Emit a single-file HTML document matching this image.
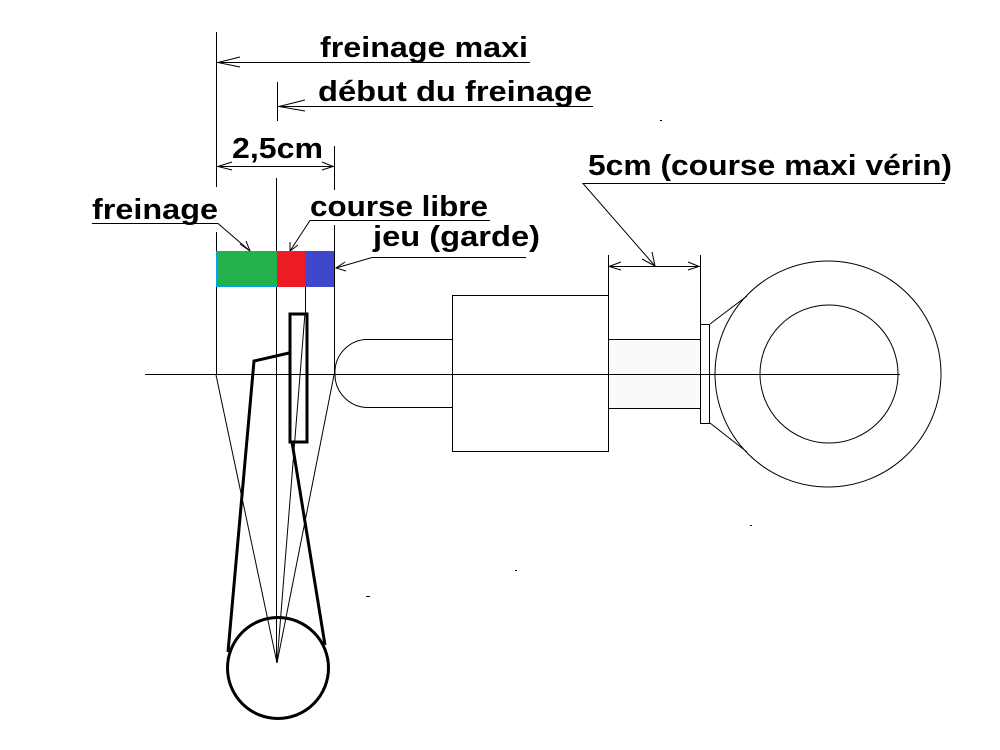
<!DOCTYPE html>
<html><head><meta charset="utf-8"><style>html,body{margin:0;padding:0;background:#fff}svg{display:block}</style></head><body>
<svg width="1000" height="750" viewBox="0 0 1000 750" xmlns="http://www.w3.org/2000/svg">
<g stroke="#000" stroke-width="1" fill="none">
<line x1="145" y1="374.5" x2="900" y2="374.5"/>
<line x1="216.5" y1="32" x2="216.5" y2="187"/>
<line x1="216.5" y1="232" x2="216.5" y2="375"/>
<line x1="277.5" y1="82" x2="277.5" y2="121"/>
<line x1="276.5" y1="178" x2="276.5" y2="662"/>
<line x1="334.5" y1="146" x2="334.5" y2="190"/>
<line x1="334.5" y1="225" x2="334.5" y2="375"/>
<line x1="305.5" y1="287" x2="305.5" y2="313"/>
<line x1="217" y1="62.5" x2="530" y2="62.5"/>
<polyline points="240,57 218,62.5 240,67"/>
<line x1="278" y1="106.5" x2="593" y2="106.5"/>
<polyline points="305,100 279,106.5 305,111"/>
<line x1="217" y1="166.5" x2="334" y2="166.5"/>
<polyline points="232,162 218,166.5 232,170"/>
<polyline points="322,162 333,166.5 322,170"/>
<polyline points="92,223.5 218,223.5 250,251"/>
<polyline points="240,244 250,251 246,241"/>
<polyline points="490,220.5 310,220.5 290,251"/>
<polyline points="290,242 290,251 298,245"/>
<polyline points="526,257.5 372,257.5 336,268"/>
<polyline points="345,262 336,268 346,271"/>
<polyline points="945,183.5 583,183.5 655,266"/>
<polyline points="642,259 655,266 652,252"/>
<line x1="608.5" y1="255" x2="608.5" y2="295"/>
<line x1="700.5" y1="255" x2="700.5" y2="324"/>
<line x1="609" y1="266.5" x2="700" y2="266.5"/>
<polyline points="621,262 609,266.5 621,270"/>
<polyline points="688,262 699,266.5 688,270"/>
<line x1="216" y1="375" x2="277" y2="663"/>
<line x1="334" y1="375" x2="277" y2="663"/>
<line x1="305" y1="313" x2="277" y2="663"/>
<path d="M452,339.5 H365 A33,33 0 0 0 335,374 A33,33 0 0 0 369,407.5 H452"/>
<rect x="452.5" y="295.5" width="156" height="156"/>
<rect x="608.5" y="339.5" width="92" height="69" fill="#fafafa"/>
<line x1="608" y1="374.5" x2="700" y2="374.5"/>
<rect x="700.5" y="324.5" width="9" height="99"/>
<line x1="710" y1="324" x2="747" y2="296"/>
<line x1="710" y1="423" x2="747" y2="452"/>
<circle cx="828" cy="374" r="113"/>
<circle cx="829" cy="374" r="69"/>
<g stroke-width="3">
<rect x="290" y="314" width="17" height="128"/>
<polyline points="289,353 254,361 228,652"/>
<line x1="292" y1="442" x2="325" y2="645"/>
<circle cx="278" cy="668" r="50.5"/>
</g>
<line x1="366" y1="596.5" x2="370" y2="596.5"/>
<line x1="515" y1="570.5" x2="517" y2="570.5"/>
<line x1="750" y1="525.5" x2="752" y2="525.5"/>
<line x1="660" y1="120.5" x2="662" y2="120.5"/>
</g>
<rect x="216.5" y="251.5" width="61" height="35" fill="#22b14c" stroke="#00a2e8" stroke-width="1"/>
<rect x="277" y="251" width="28" height="36" fill="#ed1c24"/>
<rect x="305" y="251" width="29" height="36" fill="#3f48cc"/>
<g font-family="'Liberation Sans',sans-serif" font-weight="bold" font-size="29" fill="#000">
<text x="320" y="57" textLength="208" lengthAdjust="spacingAndGlyphs">freinage maxi</text>
<text x="318" y="101" textLength="274" lengthAdjust="spacingAndGlyphs">début du freinage</text>
<text x="232" y="158" textLength="91" lengthAdjust="spacingAndGlyphs">2,5cm</text>
<text x="92" y="219" textLength="126" lengthAdjust="spacingAndGlyphs">freinage</text>
<text x="310" y="216" textLength="178" lengthAdjust="spacingAndGlyphs">course libre</text>
<text x="373" y="246" textLength="167" lengthAdjust="spacingAndGlyphs">jeu (garde)</text>
<text x="588" y="175" textLength="364" lengthAdjust="spacingAndGlyphs">5cm (course maxi vérin)</text>
</g>
</svg>
</body></html>
